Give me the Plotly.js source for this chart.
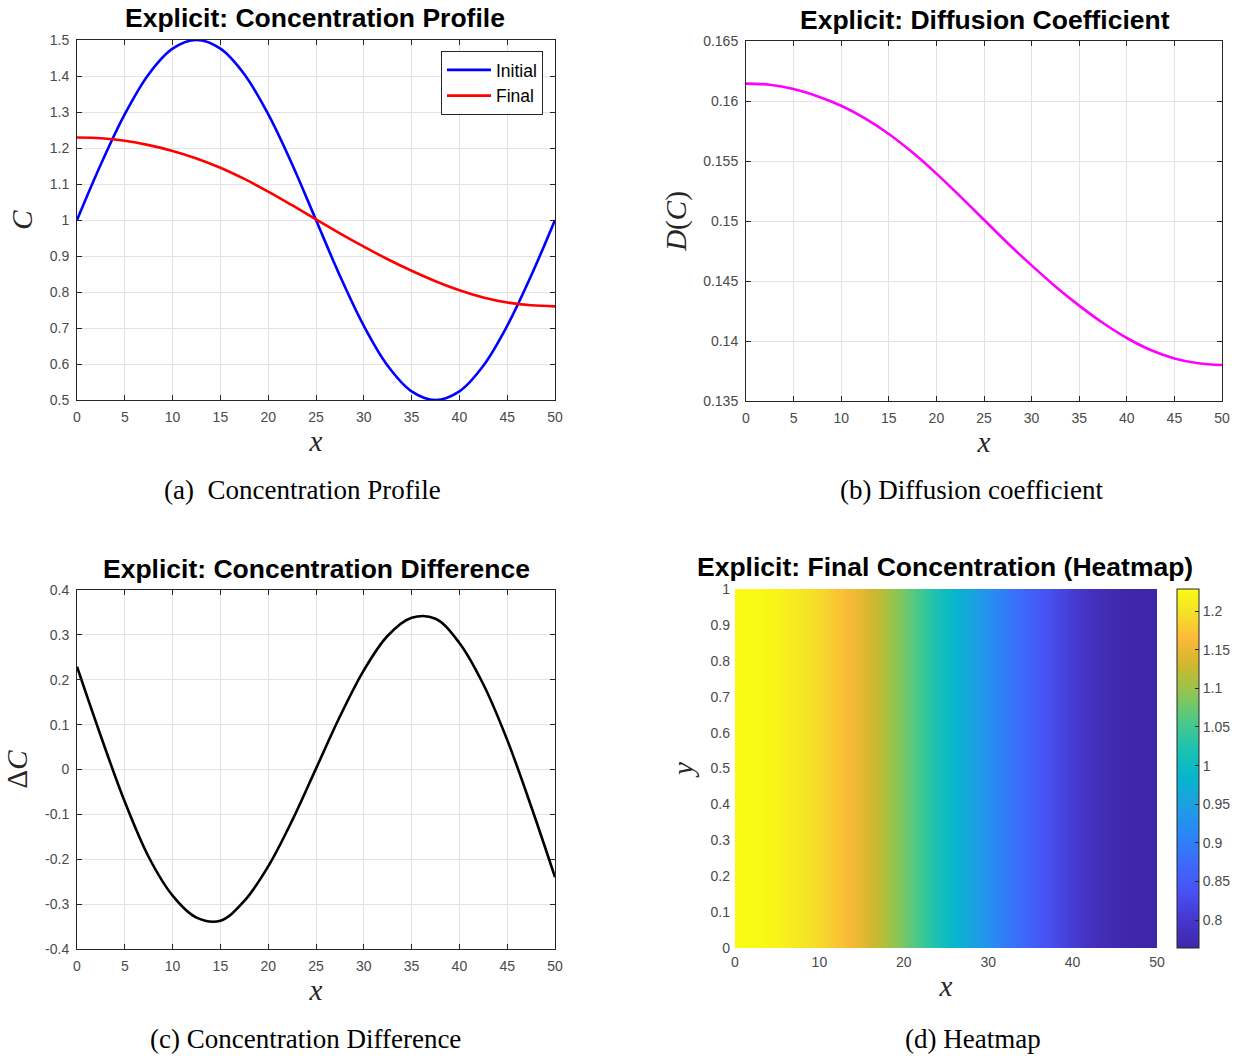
<!DOCTYPE html>
<html>
<head>
<meta charset="utf-8">
<script src="https://cdn.plot.ly/plotly-3.0.1.min.js"></script>
<style>
  html, body { margin: 0; padding: 0; background: #ffffff; }
  #chart { width: 1240px; height: 1057px; }
</style>
</head>
<body>
<div id="chart"></div>
<script>
// ---- Data ----
const xs = [0, 2.5, 5, 7.5, 10, 12.5, 15, 17.5, 20, 22.5, 25, 27.5, 30, 32.5, 35, 37.5, 40, 42.5, 45, 47.5, 50];
const initialC = [1.000, 1.155, 1.294, 1.405, 1.476, 1.500, 1.476, 1.405, 1.294, 1.155, 1.000, 0.845, 0.706, 0.595, 0.524, 0.500, 0.524, 0.595, 0.706, 0.845, 1.000];
const finalC = [1.229, 1.227, 1.220, 1.208, 1.192, 1.171, 1.145, 1.114, 1.079, 1.041, 1.002, 0.963, 0.926, 0.891, 0.859, 0.830, 0.805, 0.785, 0.771, 0.763, 0.760];
const diffD = [0.16145, 0.16135, 0.1610, 0.1604, 0.1596, 0.15855, 0.15725, 0.1557, 0.15395, 0.15205, 0.1501, 0.14815, 0.1463, 0.14455, 0.14295, 0.1415, 0.14025, 0.13925, 0.13855, 0.13815, 0.1380];
const deltaC = [0.229, 0.074, -0.072, -0.195, -0.281, -0.330, -0.337, -0.293, -0.216, -0.114, 0.002, 0.118, 0.221, 0.298, 0.338, 0.336, 0.282, 0.190, 0.066, -0.082, -0.240];
const heatY = [0, 1];

const dcTickVals = [-0.4, -0.3, -0.2, -0.1, 0, 0.1, 0.2, 0.3, 0.4];
const dcTickText = ['-0.4', '-0.3', '-0.2', '-0.1', '0', '0.1', '0.2', '0.3', '0.4'];
const cbTickVals = [0.8, 0.85, 0.9, 0.95, 1, 1.05, 1.1, 1.15, 1.2];
const cbTickText = ['0.8', '0.85', '0.9', '0.95', '1', '1.05', '1.1', '1.15', '1.2'];

const panelTitles = [
  'Explicit: Concentration Profile',
  'Explicit: Diffusion Coefficient',
  'Explicit: Concentration Difference',
  'Explicit: Final Concentration (Heatmap)'
];
const captions = [
  '(a)  Concentration Profile',
  '(b) Diffusion coefficient',
  '(c) Concentration Difference',
  '(d) Heatmap'
];

// ---- Styling helpers ----
const sans = 'Liberation Sans, Arial, Helvetica, sans-serif';
const serif = 'Liberation Serif, Times New Roman, serif';
const axisCommon = {
  showline: true, linecolor: '#262626', linewidth: 1, mirror: 'ticks',
  ticks: 'inside', ticklen: 5, tickcolor: '#262626', tickwidth: 1,
  showgrid: true, gridcolor: '#e3e3e3', gridwidth: 1, zeroline: false,
  tickfont: { family: sans, size: 14, color: '#4a4a4a' },
  automargin: false
};
function ax(extra) { return Object.assign({}, axisCommon, extra); }
function axTitle(text, standoff) {
  return { text: text, standoff: standoff, font: { family: serif, size: 29, color: '#262626' } };
}

const parula = [
  [0.00, 'rgb(62,38,168)'],
  [0.08, 'rgb(69,56,206)'],
  [0.16, 'rgb(72,82,244)'],
  [0.24, 'rgb(60,108,250)'],
  [0.32, 'rgb(42,135,245)'],
  [0.40, 'rgb(28,160,225)'],
  [0.48, 'rgb(6,182,204)'],
  [0.56, 'rgb(30,195,175)'],
  [0.64, 'rgb(82,201,130)'],
  [0.72, 'rgb(152,196,75)'],
  [0.79, 'rgb(208,184,45)'],
  [0.86, 'rgb(252,184,56)'],
  [0.93, 'rgb(245,222,40)'],
  [1.00, 'rgb(249,251,20)']
];

const traces = [
  { x: xs, y: initialC, type: 'scatter', mode: 'lines', name: 'Initial',
    line: { color: '#0000ff', width: 2.6, shape: 'spline', smoothing: 1 }, xaxis: 'x', yaxis: 'y' },
  { x: xs, y: finalC, type: 'scatter', mode: 'lines', name: 'Final',
    line: { color: '#ff0000', width: 2.6, shape: 'spline', smoothing: 1 }, xaxis: 'x', yaxis: 'y' },
  { x: xs, y: diffD, type: 'scatter', mode: 'lines', name: 'D(C)', showlegend: false,
    line: { color: '#ff00ff', width: 2.6, shape: 'spline', smoothing: 1 }, xaxis: 'x2', yaxis: 'y2' },
  { x: xs, y: deltaC, type: 'scatter', mode: 'lines', name: 'ΔC', showlegend: false,
    line: { color: '#000000', width: 2.6, shape: 'spline', smoothing: 1 }, xaxis: 'x3', yaxis: 'y3' },
  { x: xs, y: heatY, z: [finalC, finalC], type: 'heatmap', name: 'Final C', showlegend: false,
    zsmooth: 'best', colorscale: parula, zmin: 0.764, zmax: 1.2285, xaxis: 'x4', yaxis: 'y4',
    colorbar: {
      x: 0.9492, xanchor: 'left', y: 0.1031, yanchor: 'bottom',
      len: 0.3397, lenmode: 'fraction', thickness: 22, thicknessmode: 'pixels',
      outlinewidth: 1, outlinecolor: '#262626', xpad: 0, ypad: 0,
      ticks: 'inside', ticklen: 4, tickcolor: '#262626',
      tickvals: cbTickVals, ticktext: cbTickText,
      tickfont: { family: sans, size: 14, color: '#4a4a4a' }
    } }
];

const titleFont = { family: sans, size: 26.5, color: '#000000', weight: 'bold' };
const capFont = { family: serif, size: 27, color: '#000000' };

const annotations = [
  { text: panelTitles[0], x: 315 / 1240, y: 1 - 18 / 1057 },
  { text: panelTitles[1], x: 985 / 1240, y: 1 - 20 / 1057 },
  { text: panelTitles[2], x: 316 / 1240, y: 1 - 569 / 1057 },
  { text: panelTitles[3], x: 945 / 1240, y: 1 - 567 / 1057 }
].map(a => Object.assign(a, { xref: 'paper', yref: 'paper', xanchor: 'center', yanchor: 'middle', showarrow: false, font: titleFont }));

[
  { text: captions[0], x: 302 / 1240, y: 1 - 490 / 1057 },
  { text: captions[1], x: 972 / 1240, y: 1 - 490 / 1057 },
  { text: captions[2], x: 305 / 1240, y: 1 - 1039 / 1057 },
  { text: captions[3], x: 973 / 1240, y: 1 - 1039 / 1057 }
].forEach(a => annotations.push(Object.assign(a, { xref: 'paper', yref: 'paper', xanchor: 'center', yanchor: 'middle', showarrow: false, font: capFont })));

const layout = {
  width: 1240, height: 1057,
  margin: { l: 0, r: 0, t: 0, b: 0 },
  paper_bgcolor: '#ffffff', plot_bgcolor: '#ffffff',
  font: { family: sans, size: 14, color: '#404040' },
  showlegend: true,
  legend: {
    x: 543 / 1240, xanchor: 'right', y: 1 - 51 / 1057, yanchor: 'top',
    bgcolor: '#ffffff', bordercolor: '#262626', borderwidth: 1,
    font: { family: sans, size: 17.5, color: '#000000' },
    itemwidth: 44, tracegroupgap: 0
  },
  xaxis: ax({ domain: [77 / 1240, 555 / 1240], anchor: 'y', range: [0, 50], dtick: 5, tick0: 0,
    title: axTitle('<i>x</i>', 6), ticklabelstandoff: 4 }),
  yaxis: ax({ domain: [1 - 400 / 1057, 1 - 40 / 1057], anchor: 'x', range: [0.5, 1.5], dtick: 0.1, tick0: 0.5,
    title: axTitle('<i>C</i>', 8), ticklabelstandoff: 4 }),
  xaxis2: ax({ domain: [746 / 1240, 1222 / 1240], anchor: 'y2', range: [0, 50], dtick: 5, tick0: 0,
    title: axTitle('<i>x</i>', 6), ticklabelstandoff: 4 }),
  yaxis2: ax({ domain: [1 - 401 / 1057, 1 - 41 / 1057], anchor: 'x2', range: [0.135, 0.165], dtick: 0.005, tick0: 0.135,
    title: axTitle('<i>D</i>(<i>C</i>)', 8), ticklabelstandoff: 4 }),
  xaxis3: ax({ domain: [77 / 1240, 555 / 1240], anchor: 'y3', range: [0, 50], dtick: 5, tick0: 0,
    title: axTitle('<i>x</i>', 6), ticklabelstandoff: 4 }),
  yaxis3: ax({ domain: [1 - 949 / 1057, 1 - 590 / 1057], anchor: 'x3', range: [-0.4, 0.4],
    tickmode: 'array', tickvals: dcTickVals, ticktext: dcTickText,
    title: axTitle('Δ<i>C</i>', 8), ticklabelstandoff: 4 }),
  xaxis4: ax({ domain: [735 / 1240, 1157 / 1240], anchor: 'y4', range: [0, 50], dtick: 10, tick0: 0,
    showline: false, showgrid: false, ticks: '', mirror: false,
    title: axTitle('<i>x</i>', 6), ticklabelstandoff: 4 }),
  yaxis4: ax({ domain: [1 - 948 / 1057, 1 - 589 / 1057], anchor: 'x4', range: [0, 1], dtick: 0.1, tick0: 0,
    showline: false, showgrid: false, ticks: '', mirror: false,
    title: axTitle('<i>y</i>', 8), ticklabelstandoff: 4 }),
  annotations: annotations
};

Plotly.newPlot('chart', traces, layout, { displayModeBar: false, staticPlot: true });
</script>
</body>
</html>
